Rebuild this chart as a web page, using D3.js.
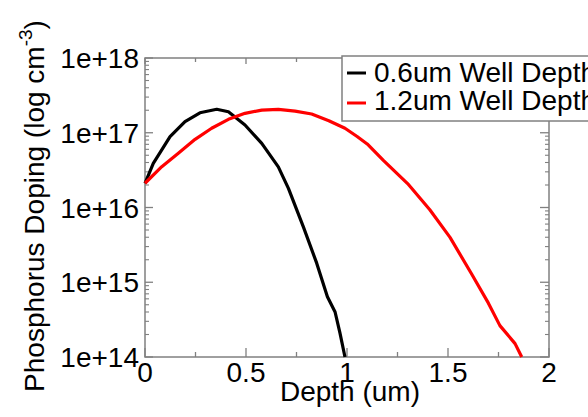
<!DOCTYPE html>
<html><head><meta charset="utf-8">
<script src="https://cdn.jsdelivr.net/npm/d3@7"></script>
<style>
html,body{margin:0;padding:0;background:#fff;overflow:hidden}
text{font-family:"Liberation Sans",Arial,sans-serif;fill:#000}
</style></head>
<body>
<svg id="c" width="588" height="417"></svg>
<script>
const seriesNames = ["0.6um Well Depth", "1.2um Well Depth"];
const seriesColors = ["#000000", "#ff0000"];
const depth06 = [0, 0.041, 0.124, 0.198, 0.272, 0.355, 0.413, 0.495, 0.578, 0.66, 0.71, 0.784, 0.85, 0.903, 0.941, 0.965, 0.99];
const doping06 = [2.1e16, 3.9e16, 8.9e16, 1.41e17, 1.85e17, 2.06e17, 1.91e17, 1.27e17, 7.2e16, 3.5e16, 1.8e16, 5.5e15, 1.8e15, 6.4e14, 4.0e14, 2.1e14, 1.0e14];
const depth12 = [0, 0.083, 0.165, 0.248, 0.33, 0.413, 0.495, 0.578, 0.66, 0.743, 0.825, 0.91, 0.99, 1.05, 1.1, 1.18, 1.3, 1.41, 1.51, 1.617, 1.70, 1.757, 1.832, 1.865];
const doping12 = [2.11e16, 3.52e16, 5.31e16, 8.17e16, 1.15e17, 1.51e17, 1.82e17, 2.01e17, 2.06e17, 1.95e17, 1.78e17, 1.45e17, 1.15e17, 8.9e16, 7.08e16, 4.27e16, 2.09e16, 9.33e15, 3.98e15, 1.29e15, 5.25e14, 2.63e14, 1.51e14, 1.0e14];
const xTickLabels = ["0", "0.5", "1", "1.5", "2"];
const yTickLabels = ["1e+14", "1e+15", "1e+16", "1e+17", "1e+18"];

const svg = d3.select("#c");
const L = 145, R = 549, T = 58, B = 357;
const x = d3.scaleLinear().domain([0, 2]).range([L, R]);
const y = d3.scaleLog().domain([1e14, 1e18]).range([B, T]);
const axisColor = "#808080";

// frame
svg.append("rect").attr("x", L).attr("y", T).attr("width", R - L).attr("height", B - T)
  .attr("fill", "none").attr("stroke", axisColor).attr("stroke-width", 1.5);

// x ticks (inward) bottom and top
const xMinor = d3.range(0, 2.001, 0.25);
xMinor.forEach(v => {
  const major = Math.abs(v * 2 - Math.round(v * 2)) < 1e-6;
  const len = major ? 9 : 5;
  svg.append("line").attr("x1", x(v)).attr("x2", x(v)).attr("y1", B).attr("y2", B - len)
    .attr("stroke", axisColor).attr("stroke-width", 1.3);
  svg.append("line").attr("x1", x(v)).attr("x2", x(v)).attr("y1", T).attr("y2", T + (major ? 6 : 4))
    .attr("stroke", axisColor).attr("stroke-width", 1.3);
});
// y ticks
const yMajors = [1e14, 1e15, 1e16, 1e17, 1e18];
const yMinors = [];
[1e14, 1e15, 1e16, 1e17].forEach(d => { for (let k = 2; k <= 9; k++) yMinors.push(d * k); });
yMajors.forEach(v => {
  svg.append("line").attr("x1", L).attr("x2", L + 8).attr("y1", y(v)).attr("y2", y(v)).attr("stroke", axisColor).attr("stroke-width", 1.3);
  svg.append("line").attr("x1", R).attr("x2", R - 9).attr("y1", y(v)).attr("y2", y(v)).attr("stroke", axisColor).attr("stroke-width", 1.3);
});
yMinors.forEach(v => {
  svg.append("line").attr("x1", L).attr("x2", L + 4).attr("y1", y(v)).attr("y2", y(v)).attr("stroke", axisColor).attr("stroke-width", 1.1);
  svg.append("line").attr("x1", R).attr("x2", R - 4).attr("y1", y(v)).attr("y2", y(v)).attr("stroke", axisColor).attr("stroke-width", 1.1);
});

// tick labels
xTickLabels.forEach((t, i) => {
  svg.append("text").attr("x", x(i * 0.5)).attr("y", 382).attr("text-anchor", "middle")
    .attr("font-size", 28).text(t);
});
yTickLabels.forEach((t, i) => {
  svg.append("text").attr("x", 139).attr("y", y(yMajors[i]) + 10).attr("text-anchor", "end")
    .attr("font-size", 28).text(t);
});

// axis titles
svg.append("text").attr("x", 350).attr("y", 401).attr("text-anchor", "middle")
  .attr("font-size", 28).text("Depth (um)");
const yl = svg.append("text").attr("transform", "translate(44,206) rotate(-90)")
  .attr("text-anchor", "middle").attr("font-size", 28);
yl.append("tspan").text("Phosphorus Doping (log cm");
yl.append("tspan").attr("dy", -12).attr("font-size", 19).text("-3");
yl.append("tspan").attr("dy", 12).text(")");

// lines
const line = d3.line().x(d => x(d[0])).y(d => y(d[1]));
const data = [d3.zip(depth06, doping06), d3.zip(depth12, doping12)];
data.forEach((d, i) => {
  svg.append("path").datum(d).attr("d", line).attr("fill", "none")
    .attr("stroke", seriesColors[i]).attr("stroke-width", 3.2).attr("stroke-linejoin", "round");
});

// legend
svg.append("rect").attr("x", 342).attr("y", 56).attr("width", 260).attr("height", 65)
  .attr("fill", "#fff").attr("stroke", axisColor).attr("stroke-width", 1.5);
seriesNames.forEach((n, i) => {
  const cy = 73 + i * 30;
  svg.append("line").attr("x1", 347).attr("x2", 366).attr("y1", cy).attr("y2", cy)
    .attr("stroke", seriesColors[i]).attr("stroke-width", 3);
  svg.append("text").attr("x", 374).attr("y", 82 + i * 28).attr("font-size", 28).text(n);
});
</script>
</body></html>
